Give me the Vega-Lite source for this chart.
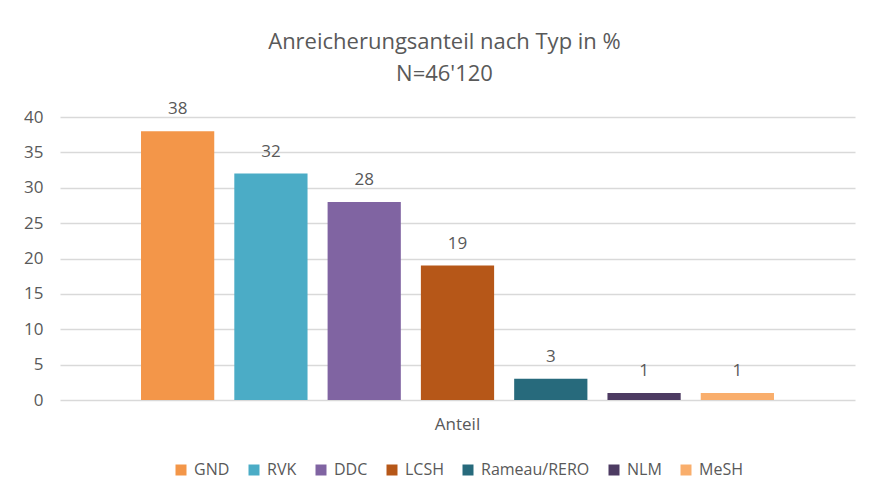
{
  "$schema": "https://vega.github.io/schema/vega-lite/v6.json",
  "width": 795,
  "height": 283,
  "autosize": {"type": "none"},
  "padding": {"left": 60, "top": 117, "right": 20, "bottom": 101},
  "background": "white",
  "title": {
    "text": ["Anreicherungsanteil nach Typ in %", "N=46'120"],
    "fontSize": 22,
    "fontWeight": "normal",
    "font": "Open Sans",
    "color": "#595959",
    "lineHeight": 32,
    "anchor": "middle",
    "dx": -13,
    "offset": 14
  },
  "config": {
    "font": "Open Sans",
    "view": {"stroke": null},
    "axis": {"labelFont": "Open Sans", "labelColor": "#595959", "labelFontSize": 17},
    "legend": {"layout": {"bottom": {"anchor": "middle"}}}
  },
  "data": {
    "values": [
      {"Kategorie": "Anteil", "Typ": "GND", "Wert": 38},
      {"Kategorie": "Anteil", "Typ": "RVK", "Wert": 32},
      {"Kategorie": "Anteil", "Typ": "DDC", "Wert": 28},
      {"Kategorie": "Anteil", "Typ": "LCSH", "Wert": 19},
      {"Kategorie": "Anteil", "Typ": "Rameau/RERO", "Wert": 3},
      {"Kategorie": "Anteil", "Typ": "NLM", "Wert": 1},
      {"Kategorie": "Anteil", "Typ": "MeSH", "Wert": 1}
    ]
  },
  "encoding": {
    "x": {
      "field": "Kategorie",
      "type": "nominal",
      "scale": {"paddingInner": 0, "paddingOuter": 0.128},
      "axis": {"title": null, "ticks": false, "domain": false, "labelAngle": 0, "labelPadding": 16, "labelFontSize": 17}
    },
    "xOffset": {
      "field": "Typ",
      "type": "nominal",
      "sort": ["GND", "RVK", "DDC", "LCSH", "Rameau/RERO", "NLM", "MeSH"],
      "scale": {"paddingInner": 0.215, "paddingOuter": 0}
    },
    "y": {
      "field": "Wert",
      "type": "quantitative",
      "scale": {"domain": [0, 40], "nice": false},
      "axis": {
        "title": null,
        "values": [0, 5, 10, 15, 20, 25, 30, 35, 40],
        "ticks": false,
        "domain": false,
        "gridColor": "#d9d9d9",
        "gridWidth": 1.3,
        "labelPadding": 17
      }
    }
  },
  "layer": [
    {
      "mark": {"type": "bar"},
      "encoding": {
        "color": {
          "field": "Typ",
          "type": "nominal",
          "sort": ["GND", "RVK", "DDC", "LCSH", "Rameau/RERO", "NLM", "MeSH"],
          "scale": {
            "domain": ["GND", "RVK", "DDC", "LCSH", "Rameau/RERO", "NLM", "MeSH"],
            "range": ["#F39649", "#4BACC6", "#8064A2", "#B65718", "#276A7C", "#4D3B62", "#F9AE6C"]
          },
          "legend": {
            "title": null,
            "orient": "bottom",
            "direction": "horizontal",
            "symbolType": "square",
            "symbolSize": 121,
            "symbolStrokeWidth": 0,
            "labelFontSize": 16,
            "labelFont": "Open Sans",
            "labelColor": "#595959",
            "columnPadding": 16,
            "labelOffset": 5,
            "offset": 30
          }
        }
      }
    },
    {
      "mark": {"type": "text", "dy": -22, "fontSize": 17, "color": "#595959", "font": "Open Sans"},
      "encoding": {"text": {"field": "Wert", "type": "quantitative"}}
    }
  ]
}
